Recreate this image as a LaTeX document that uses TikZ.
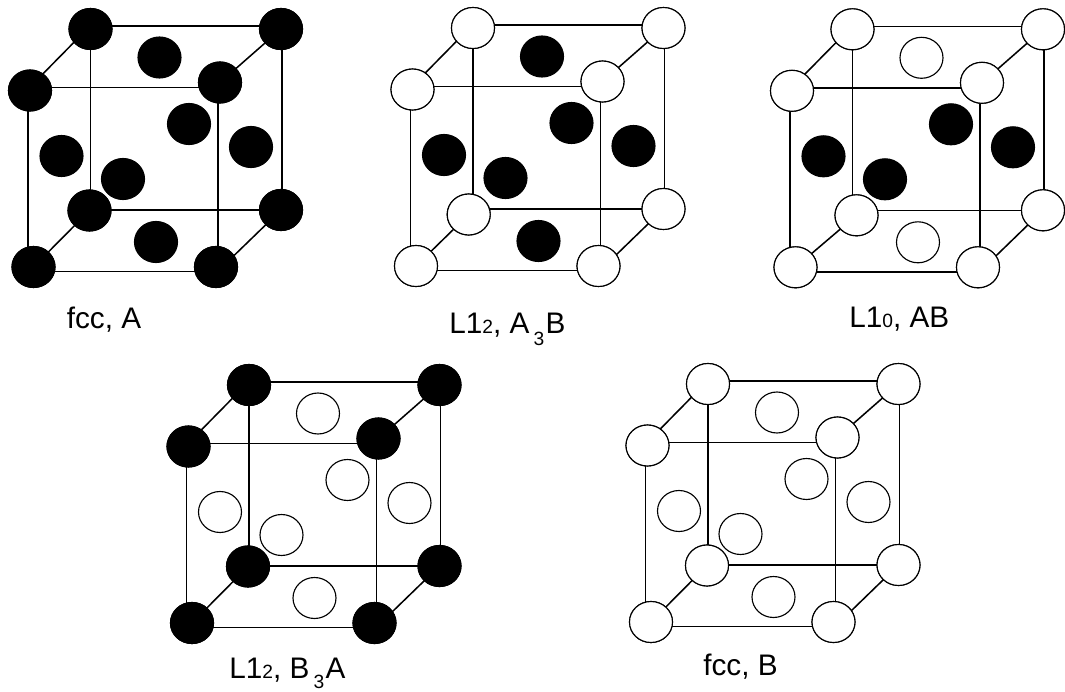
\documentclass[tikz,border=0pt]{standalone}
\usepackage{fontspec}
\setmainfont{Liberation Sans}
\usetikzlibrary{shapes.geometric}
\tikzstyle{atom}=[ellipse,draw=black,line width=0.85pt,minimum width=32.25pt,minimum height=30.75pt,inner sep=0pt]
\tikzstyle{blackatom}=[atom,fill=black]
\tikzstyle{whiteatom}=[atom,fill=white]
\tikzstyle{edge}=[draw,line width=1.15pt]
\tikzstyle{caption}=[anchor=base west,inner sep=0pt,font=\fontsize{22.3}{26}\selectfont]
\newcommand{\smalltwo}[1]{{\fontsize{14.4}{14}\selectfont #1}}
\newcommand{\lowthree}[1]{\hspace{3.2pt}\raisebox{-#1}{\fontsize{14.4}{14}\selectfont 3}\hspace{1pt}}

\begin{document}
\begin{tikzpicture}[x=0.75pt,y=-0.75pt]
    \useasboundingbox (0,0) rectangle (1065,692);

    \foreach \cube/\ox/\oy/\corner/\topatom/\sideatom/\mx/\my in {
        a/0/0/blackatom/blackatom/blackatom/0/0,
        b/382.5/-1/whiteatom/blackatom/blackatom/-3.3/5,
        c/762/0.3/whiteatom/whiteatom/blackatom/5/4.5,
        d/158.5/356/blackatom/whiteatom/whiteatom/0/0,
        e/617.5/355/whiteatom/whiteatom/whiteatom/0/0} {
      \begin{scope}[shift={(\ox,\oy)}]
        % Atoms at the face centres
        \foreach \pos/ \name in {{(159.5,57.5)/top},{(156,242)/bot}}
            \node[\topatom] (\cube-\name) at \pos {};
        \foreach \pos/ \name in {{(61.5,156)/lft},{(251,147)/rgt},{(189,124)/bck},{(123,179)/frt}}
            \node[\sideatom] (\cube-\name) at \pos {};

        % Corner atoms, named first so the edges can find them
        \foreach \pos/ \name in {{(90.5,29)/btl},{(281,29)/btr},{(30,90.5)/ftl},{(220,82.5)/ftr},
                {(281,210)/bbr},{(33.5,267)/fbl},{(216,267)/fbr}}
            \node[\corner] (\cube-\name) at \pos {};
        \node[\corner] (\cube-bbl) at (89.5+\mx,210.5+\my) {};

        % Horizontal edges
        \foreach \source/ \dest/\off in {btl/btr/-3, ftl/ftr/-3, fbl/fbr/4.5, bbr/bbl/0}
            \path[edge] ([shift={(0,\off)}]\cube-\source.center) -- ([shift={(0,\off)}]\cube-\source.center -| \cube-\dest.center);
        % Vertical edges
        \foreach \source/ \dest/\off in {btl/bbl/0, btr/bbr/1, ftl/fbl/-2, ftr/fbr/-2}
            \path[edge] ([shift={(\off,0)}]\cube-\source.center) -- ([shift={(\off,0)}]\cube-\source.center |- \cube-\dest.center);
        % Diagonal edges
        \foreach \source/ \dest/\off/\offd in {ftl/btl/-3.5/-3.5, ftr/btr/0/0, fbl/bbl/0/0, fbr/bbr/6/0}
            \path[edge] ([shift={(0,\off)}]\cube-\source.center) -- ([shift={(0,\offd)}]\cube-\dest.center);

        % Corner atoms again, over the edges
        \foreach \name in {btl,btr,ftl,ftr,bbr,bbl,fbl,fbr}
            \node[\corner] at (\cube-\name.center) {};
      \end{scope}
    }

    \node[caption] (capa) at (66.5,328) {fcc, A};
    \node[caption] (capb) at (449,333) {L1\smalltwo{2}, A\lowthree{9pt}B};
    \node[caption] (capc) at (849,327) {L1\smalltwo{0}, AB};
    \node[caption] (capd) at (229,678.5) {L1\smalltwo{2}, B\lowthree{7.5pt}A};
    \node[caption] (cape) at (703,675) {fcc, B};
\end{tikzpicture}
\end{document}
